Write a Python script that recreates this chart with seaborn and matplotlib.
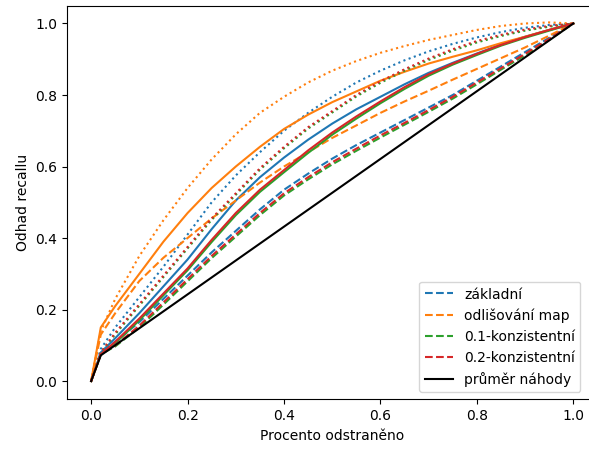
import matplotlib
matplotlib.use("Agg")
import matplotlib.pyplot as plt
import seaborn as sns
import pandas as pd

x = [0, 0.02, 0.05, 0.1, 0.15, 0.2, 0.25, 0.3, 0.35, 0.4, 0.45, 0.5,
     0.55, 0.6, 0.65, 0.7, 0.75, 0.8, 0.85, 0.9, 0.95, 1.0]

methods = ["základní", "odlišování map", "0.1-konzistentní", "0.2-konzistentní"]
random_label = "průměr náhody"

zakladni_dashed = [0, .08, .11, .165, .23, .295, .36, .42, .48, .535, .58, .622,
                   .66, .695, .73, .765, .80, .84, .88, .92, .96, 1]
zakladni_solid = [0, .08, .12, .19, .265, .34, .425, .505, .57, .625, .675, .72,
                  .76, .795, .83, .862, .89, .916, .941, .963, .982, 1]
zakladni_dotted = [0, .09, .15, .235, .32, .41, .50, .575, .64, .70, .75, .795,
                   .835, .868, .897, .922, .943, .961, .976, .988, .996, 1]

odlis_dashed = [0, .13, .19, .28, .345, .40, .455, .505, .555, .60, .64, .68,
                .715, .75, .782, .812, .843, .873, .903, .933, .966, 1]
odlis_solid = [0, .15, .21, .30, .39, .47, .54, .60, .655, .705, .745, .78,
               .81, .84, .865, .888, .907, .925, .945, .963, .982, 1]
odlis_dotted = [0, .14, .23, .35, .45, .54, .62, .69, .75, .795, .835, .868,
                .895, .918, .937, .954, .968, .982, .993, 1.0, 1.003, 1]

k01_dashed = [0, .075, .097, .15, .214, .279, .344, .404, .464, .519, .564, .606,
              .644, .681, .717, .753, .79, .83, .871, .911, .954, 1]
k01_solid = [0, .075, .106, .17, .24, .31, .389, .464, .529, .584, .638, .689,
             .734, .777, .817, .854, .885, .912, .938, .96, .98, 1]
k01_dotted = [0, .08, .131, .211, .291, .371, .451, .521, .591, .651, .706, .751,
              .796, .834, .868, .898, .924, .947, .965, .98, .991, 1]

k02_dashed = [0, .075, .10, .155, .22, .285, .35, .41, .47, .525, .57, .612,
              .65, .687, .722, .758, .795, .835, .875, .915, .957, 1]
k02_solid = [0, .075, .11, .175, .245, .315, .395, .47, .535, .59, .645, .695,
             .74, .782, .822, .858, .888, .915, .94, .962, .982, 1]
k02_dotted = [0, .08, .135, .215, .295, .375, .455, .525, .595, .655, .71, .755,
              .80, .838, .872, .902, .928, .951, .968, .983, .993, 1]

random_x = [0, 0.02, 1.0]
random_y = [0, 0.072, 1.0]

series = {
    "základní": (zakladni_dashed, zakladni_solid, zakladni_dotted),
    "odlišování map": (odlis_dashed, odlis_solid, odlis_dotted),
    "0.1-konzistentní": (k01_dashed, k01_solid, k01_dotted),
    "0.2-konzistentní": (k02_dashed, k02_solid, k02_dotted),
}
colors = ["#1f77b4", "#ff7f0e", "#2ca02c", "#d62728"]

W, H = 589, 450
x_left_px, x_right_px = 67, 625
px_per_unit = (597 - 67) / 1.1
fig = plt.figure(figsize=(W / 100 + 0.004, H / 100 + 0.004), dpi=100)
ax = fig.add_axes([x_left_px / W, 1 - 399 / H, (x_right_px - x_left_px) / W, (399 - 6) / H])

handles = []
for m, c in zip(methods, colors):
    d, s, o = series[m]
    df = pd.DataFrame({"x": x, "dashed": d, "solid": s, "dotted": o})
    sns.lineplot(data=df, x="x", y="dashed", ax=ax, color=c, linestyle="--", lw=1.5)
    handles.append(ax.lines[-1])
    sns.lineplot(data=df, x="x", y="solid", ax=ax, color=c, linestyle="-", lw=1.5)
    sns.lineplot(data=df, x="x", y="dotted", ax=ax, color=c, linestyle=":", lw=1.5)

rdf = pd.DataFrame({"x": random_x, "y": random_y})
sns.lineplot(data=rdf, x="x", y="y", ax=ax, color="black", lw=1.5)
handles.append(ax.lines[-1])

ax.spines["right"].set_visible(False)
ax.set_xlim(-0.05, -0.05 + (x_right_px - x_left_px) / px_per_unit)
ax.set_ylim(-0.05, 1.05)
ax.set_xticks([0, 0.2, 0.4, 0.6, 0.8, 1.0])
ax.set_yticks([0, 0.2, 0.4, 0.6, 0.8, 1.0])
ax.set_xlabel("Procento odstraněno", x=((597 + 67) / 2 - x_left_px) / (x_right_px - x_left_px))
ax.set_ylabel("Odhad recallu")
ax.legend(handles, methods + [random_label], loc="lower right",
          bbox_to_anchor=((587 - x_left_px) / (x_right_px - x_left_px), 0.0))
fig.savefig("out.png", dpi=100)
